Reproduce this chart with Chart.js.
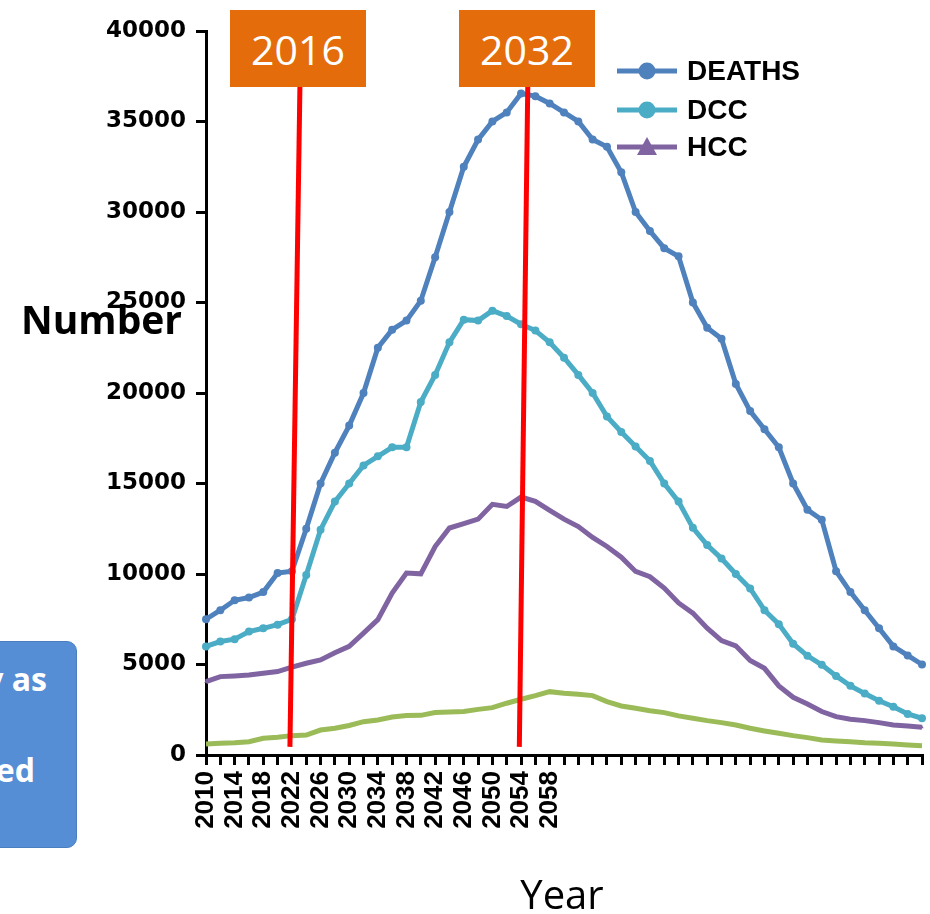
<!DOCTYPE html>
<html lang="en">
<head>
<meta charset="utf-8">
<title>Number by Year</title>
<script src="https://cdn.jsdelivr.net/npm/chart.js@4.4.1/dist/chart.umd.min.js"></script>
<style>
    html, body { margin: 0; padding: 0; background: #fff; }
    #palco { position: relative; width: 930px; height: 914px; overflow: hidden; }
    #grafico { position: absolute; left: 0; top: 0; }
    .marco {
        position: absolute; top: 10px; width: 136px; height: 77px;
        background: #E46C0A; color: #fff;
        font: 41px "Open Sans", sans-serif;
        display: flex; align-items: center; justify-content: center;
    }
    #caixaAzul {
        position: absolute; left: -150px; top: 641px; width: 225px; height: 205px;
        background: #558ED5; border: 1px solid #4A7EBF; border-radius: 10px;
        color: #fff; font: bold 32px "Open Sans", sans-serif;
    }
    #caixaAzul span { position: absolute; line-height: 32px; white-space: nowrap; }
    #tituloY {
        position: absolute; left: 21px; top: 299px;
        font: bold 39px "Open Sans", sans-serif; line-height: 39px; color: #000;
    }
    #tituloX {
        position: absolute; left: 462px; top: 874px; width: 200px; text-align: center;
        font: 40px "Open Sans", sans-serif; line-height: 40px; color: #000;
    }
</style>
</head>
<body>
<div id="palco">
    <canvas id="grafico" width="930" height="914"></canvas>
    <div id="caixaAzul"><span style="right:29px; top:21px;">y as</span><span style="right:41px; top:112px;">ed</span></div>
    <div class="marco" style="left:230px;">2016</div>
    <div class="marco" style="left:459px;">2032</div>
    <div id="tituloY">Number</div>
    <div id="tituloX">Year</div>
</div>
<script>
// Categorias (a cada 2 anos) e séries
const anos = [
    '2010', '2012', '2014', '2016', '2018', '2020', '2022', '2024', '2026', '2028',
    '2030', '2032', '2034', '2036', '2038', '2040', '2042', '2044', '2046', '2048',
    '2050', '2052', '2054', '2056', '2058', '2060', '2062', '2064', '2066', '2068',
    '2070', '2072', '2074', '2076', '2078', '2080', '2082', '2084', '2086', '2088',
    '2090', '2092', '2094', '2096', '2098', '2100', '2102', '2104', '2106', '2108',
    '2110'
];
const obitos = [
    7500, 8000, 8550, 8700, 9000, 10050, 10150, 12500, 15000, 16700,
    18200, 20000, 22500, 23500, 24000, 25100, 27500, 30000, 32500, 34000,
    35000, 35500, 36550, 36400, 36000, 35500, 35000, 34000, 33600, 32200,
    30000, 28950, 28000, 27550, 25000, 23600, 23000, 20500, 19000, 18000,
    17000, 15000, 13550, 13000, 10150, 9000, 8000, 7000, 6000, 5500,
    5000
];
const dcc = [
    6000, 6270, 6400, 6820, 7000, 7200, 7500, 9950, 12450, 14000,
    15000, 16000, 16500, 17000, 17000, 19500, 21000, 22800, 24050, 24000,
    24550, 24250, 23800, 23450, 22800, 21950, 21000, 20000, 18700, 17850,
    17050, 16250, 15000, 14000, 12550, 11600, 10850, 10000, 9200, 8000,
    7230, 6150, 5480, 4980, 4370, 3820, 3400, 3000, 2670, 2270,
    2030
];
const hcc = [
    4050, 4330, 4370, 4420, 4520, 4610, 4850, 5070, 5250, 5650,
    6000, 6730, 7480, 8950, 10050, 10010, 11520, 12540, 12780, 13030,
    13850, 13730, 14250, 14010, 13510, 13030, 12620, 12020, 11520, 10930,
    10140, 9850, 9220, 8400, 7840, 7010, 6320, 6030, 5220, 4790,
    3820, 3190, 2820, 2400, 2120, 1980, 1900, 1790, 1660, 1600,
    1530
];
const outros = [
    610, 650, 680, 735, 920, 980, 1070, 1100, 1380, 1475,
    1630, 1840, 1935, 2100, 2180, 2190, 2350, 2380, 2400, 2520,
    2615, 2860, 3080, 3280, 3500, 3410, 3360, 3280, 2950, 2710,
    2580, 2450, 2340, 2160, 2030, 1900, 1790, 1660, 1475, 1330,
    1200, 1070, 960, 830, 775, 735, 680, 645, 610, 555,
    515
];
const ticksY = [0, 5000, 10000, 15000, 20000, 25000, 30000, 35000, 40000];
const ultimoRotulo = '2058';

// Linhas vermelhas dos marcos 2016 e 2032 (índice da categoria no topo e na base)
const marcosTopo = [6.56, 22.47];
const marcosBase = [5.86, 21.88];
const marcosValor = [37000, 450];

document.addEventListener("DOMContentLoaded", () => {
    criarGrafico();
});

// Desenha as linhas vermelhas inclinadas
const linhasMarco = {
    id: 'linhasMarco',
    afterDatasetsDraw(chart) {
        const { ctx, scales: { x, y } } = chart;
        ctx.save();
        ctx.strokeStyle = '#FF0000';
        ctx.lineWidth = 5;
        marcosTopo.forEach((topo, i) => {
            ctx.beginPath();
            ctx.moveTo(x.getPixelForValue(topo), y.getPixelForValue(marcosValor[0]));
            ctx.lineTo(x.getPixelForValue(marcosBase[i]), y.getPixelForValue(marcosValor[1]));
            ctx.stroke();
        });
        ctx.restore();
    }
};

// Legenda desenhada dentro da área do gráfico
const legendaInterna = {
    id: 'legendaInterna',
    afterDraw(chart) {
        const ctx = chart.ctx;
        const linhasY = [71, 110, 147];
        ctx.save();
        chart.data.datasets.filter(d => d.label).forEach((d, i) => {
            const yy = linhasY[i];
            ctx.strokeStyle = d.borderColor;
            ctx.fillStyle = d.borderColor;
            ctx.lineWidth = 5;
            ctx.beginPath();
            ctx.moveTo(617, yy);
            ctx.lineTo(677, yy);
            ctx.stroke();
            ctx.beginPath();
            if (d.pointStyle === 'triangle') {
                ctx.moveTo(647, yy - 10);
                ctx.lineTo(657, yy + 8);
                ctx.lineTo(637, yy + 8);
                ctx.closePath();
            } else {
                ctx.arc(647, yy, 8.5, 0, Math.PI * 2);
            }
            ctx.fill();
            ctx.fillStyle = '#000';
            ctx.font = 'bold 28px "Liberation Sans", Arial, sans-serif';
            ctx.textBaseline = 'middle';
            ctx.fillText(d.label, 687, yy + 1);
        });
        ctx.restore();
    }
};

function serie(rotulo, dados, cor, estilo, raio) {
    return {
        label: rotulo,
        data: dados,
        borderColor: cor,
        backgroundColor: cor,
        borderWidth: 5,
        pointStyle: estilo,
        pointRadius: raio,
        pointBorderWidth: 0,
        tension: 0,
        fill: false
    };
}

function criarGrafico() {
    const ctx = document.getElementById("grafico");
    if (!ctx) {
        console.error("Canvas do gráfico não encontrado.");
        return;
    }

    new Chart(ctx.getContext("2d"), {
        type: "line",
        data: {
            labels: anos,
            datasets: [
                serie('DEATHS', obitos, '#4F81BD', 'circle', 4),
                serie('DCC', dcc, '#4BACC6', 'circle', 4),
                serie('HCC', hcc, '#8064A2', 'triangle', 2),
                serie('', outros, '#9BBB59', 'circle', 0)
            ]
        },
        options: {
            responsive: false,
            animation: false,
            events: [],
            layout: { padding: { top: 31, right: 8, left: 0, bottom: 0 } },
            plugins: {
                legend: { display: false },
                tooltip: { enabled: false }
            },
            scales: {
                x: {
                    offset: false,
                    afterFit: (escala) => {
                        escala.height = 159;
                        escala.paddingLeft = 0;
                        escala.paddingRight = 0;
                    },
                    border: { display: true, color: '#000', width: 3 },
                    grid: { display: true, drawOnChartArea: false, drawTicks: true, tickLength: 10, color: '#000', lineWidth: 3 },
                    ticks: {
                        autoSkip: false,
                        minRotation: 90,
                        maxRotation: 90,
                        padding: 6,
                        color: '#000',
                        font: { family: '"Liberation Sans", Arial, sans-serif', weight: 'bold', size: 26 },
                        callback: function (valor, indice) {
                            const rotulo = this.getLabelForValue(valor);
                            return (indice % 2 === 0 && rotulo <= ultimoRotulo) ? rotulo : '';
                        }
                    }
                },
                y: {
                    min: ticksY[0],
                    max: ticksY[ticksY.length - 1],
                    afterFit: (escala) => { escala.width = 206; },
                    afterBuildTicks: (escala) => { escala.ticks = ticksY.map(v => ({ value: v })); },
                    border: { display: true, color: '#000', width: 3 },
                    grid: { display: true, drawOnChartArea: false, drawTicks: true, tickLength: 10, color: '#000', lineWidth: 3 },
                    ticks: {
                        padding: 10,
                        color: '#000',
                        font: { family: '"DejaVu Sans", sans-serif', weight: 'bold', size: 23 },
                        callback: (valor) => String(valor)
                    }
                }
            }
        },
        plugins: [linhasMarco, legendaInterna]
    });
}
</script>
</body>
</html>
